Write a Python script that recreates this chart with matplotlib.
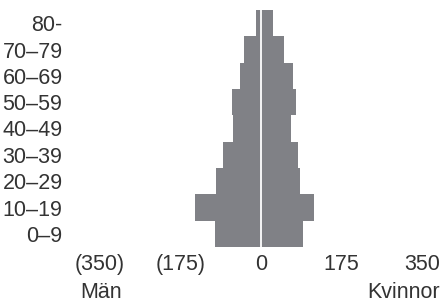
import matplotlib
matplotlib.use("Agg")
import matplotlib.pyplot as plt

age_groups = ["0–9", "10–19", "20–29", "30–39", "40–49", "50–59", "60–69", "70–79", "80-"]
men = [99, 144, 97, 82, 60, 62, 45, 37, 11]
women = [92, 115, 85, 81, 66, 75, 69, 51, 25]
xticks = [-350, -175, 0, 175, 350]
xtick_labels = ["(350)", "(175)", "0", "175", "350"]

plt.rcParams['font.family'] = ['Liberation Sans', 'DejaVu Sans']
text_color = '#333333'
bar_color = '#808186'
fs = 15.5

fig = plt.figure(figsize=(4.45, 3.03), dpi=100)
ax = fig.add_axes([100/445, 56/303, 322/445, 237/303])

y = list(range(len(age_groups)))
ax.barh(y, [-m for m in men], height=1.0, color=bar_color, linewidth=0)
ax.barh(y, women, height=1.0, color=bar_color, linewidth=0)
ax.axvline(0, color='white', lw=1.3)

ax.set_xlim(-350, 350)
ax.set_ylim(-0.5, len(age_groups) - 0.5)
ax.set_yticks(y)
ax.set_yticklabels(age_groups)
ax.set_xticks(xticks)
ax.set_xticklabels(xtick_labels)
ax.tick_params(axis='both', length=0, labelsize=fs, colors=text_color)
ax.tick_params(axis='y', pad=27)
ax.tick_params(axis='x', pad=5)
for s in ax.spines.values():
    s.set_visible(False)

fig.text(101/445, 1 - 293/303, "Män", ha='center', va='center', fontsize=fs, color=text_color)
fig.text(440/445, 1 - 293/303, "Kvinnor", ha='right', va='center', fontsize=fs, color=text_color)

fig.savefig("out.png", dpi=100)
